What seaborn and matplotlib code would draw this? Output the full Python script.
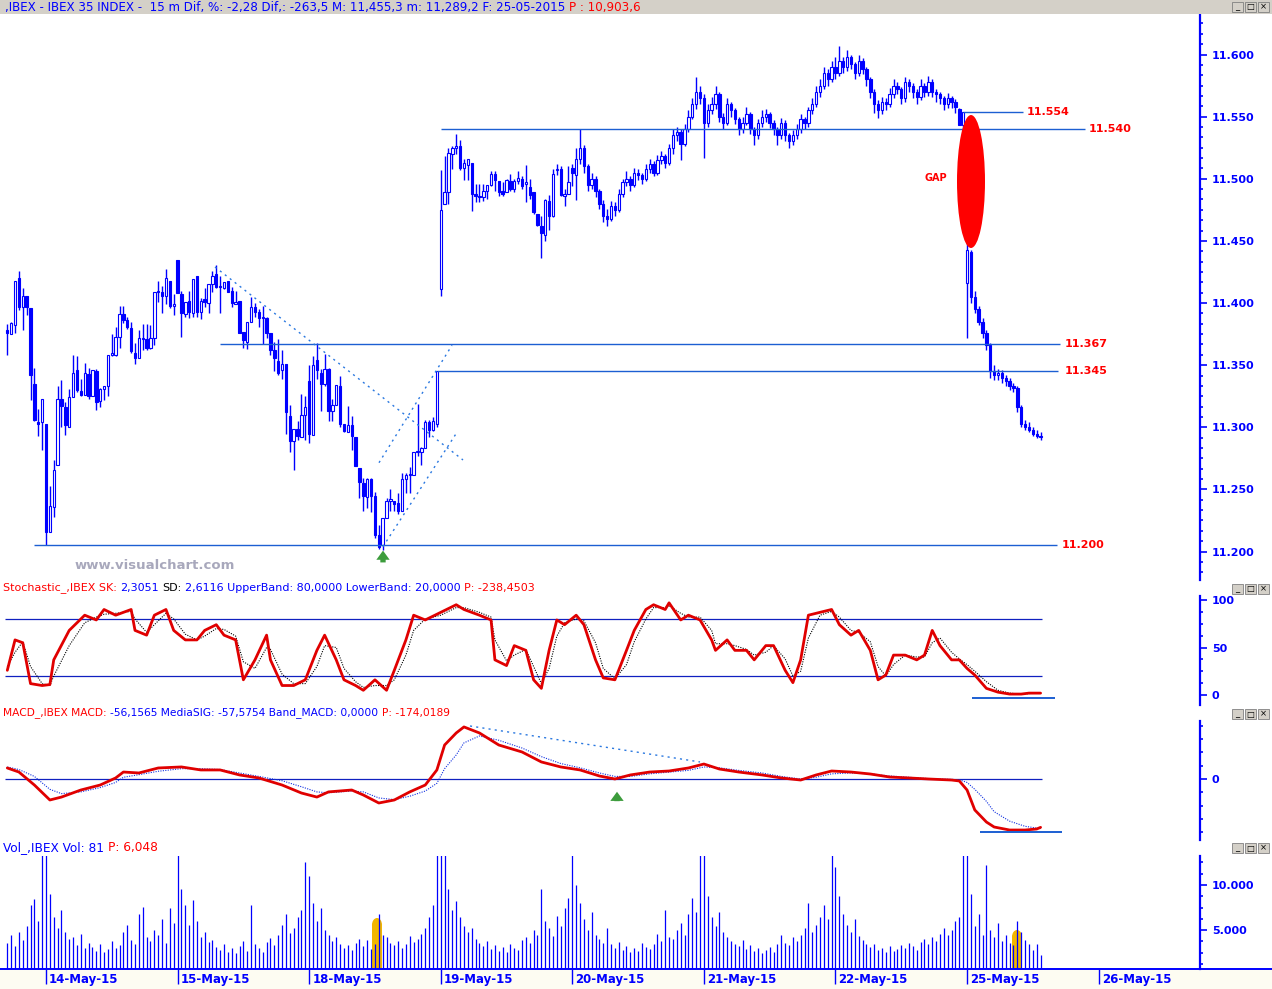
import numpy as np
import pandas as pd
import matplotlib
matplotlib.use("Agg")
import matplotlib.pyplot as plt
import matplotlib.transforms as mtransforms
from matplotlib.patches import Rectangle, Ellipse
from matplotlib.ticker import MultipleLocator
import seaborn as sns

# ---------------- data (15 min bars, IBEX 35, 13-May .. 25-May-2015) ----------------
opens = [
    11378, 11375, 11382, 11420, 11397, 11406, 11396, 11335, 11304, 11304,
    11303, 11216, 11236, 11270, 11323, 11316, 11300, 11324, 11346, 11329,
    11326, 11343, 11325, 11345, 11321, 11331, 11333, 11358, 11358, 11373,
    11391, 11386, 11380, 11360, 11356, 11371, 11371, 11364, 11372, 11409,
    11409, 11406, 11418, 11398, 11435, 11407, 11391, 11402, 11392, 11422,
    11393, 11403, 11400, 11415, 11423, 11413, 11412, 11418, 11410, 11399,
    11402, 11377, 11369, 11385, 11397, 11393, 11388, 11388, 11376, 11362,
    11353, 11346, 11351, 11309, 11289, 11299, 11292, 11310, 11337, 11294,
    11354, 11344, 11335, 11347, 11313, 11318, 11333, 11303, 11296, 11302,
    11292, 11267, 11255, 11244, 11258, 11245, 11213, 11205, 11227, 11241,
    11241, 11239, 11233, 11258, 11262, 11262, 11280, 11280, 11283, 11304,
    11298, 11303, 11411, 11480, 11489, 11520, 11525, 11526, 11509, 11511,
    11513, 11488, 11486, 11485, 11490, 11495, 11504, 11498, 11490, 11489,
    11498, 11492, 11498, 11500, 11496, 11493, 11489, 11472, 11462, 11455,
    11482, 11470, 11507, 11508, 11486, 11488, 11509, 11503,
    11516, 11525, 11510, 11495, 11500, 11490, 11480, 11470, 11468, 11478,
    11475, 11488, 11497, 11500, 11495, 11505, 11503, 11500, 11508, 11512,
    11505, 11515, 11518, 11513, 11525, 11535, 11538, 11528, 11540, 11550,
    11560, 11570, 11565, 11545, 11555, 11560, 11568, 11550, 11545, 11560,
    11555, 11548, 11540, 11545, 11552, 11540, 11535, 11545, 11550, 11552,
    11545, 11540, 11535, 11545, 11535, 11530, 11535, 11540, 11548, 11545,
    11555, 11560, 11570, 11575, 11585, 11580, 11590, 11585, 11595, 11590,
    11598, 11592, 11585, 11595, 11588, 11580, 11570, 11560, 11555, 11562,
    11560, 11568, 11575, 11572, 11565, 11578, 11575, 11570, 11566, 11575,
    11570, 11578, 11570, 11568, 11565, 11560, 11565, 11562, 11556, 11543,
    11416, 11441, 11405, 11395, 11385, 11376, 11366, 11345, 11342, 11344,
    11340, 11337, 11333, 11332, 11316, 11303, 11300, 11298, 11295, 11293,
]
highs = [
    11383, 11385, 11418, 11426, 11412, 11406, 11396, 11348, 11315, 11323,
    11303, 11253, 11274, 11333, 11338, 11320, 11331, 11358, 11357, 11339,
    11352, 11348, 11346, 11347, 11332, 11333, 11358, 11375, 11381, 11398,
    11398, 11389, 11385, 11368, 11378, 11383, 11383, 11382, 11409, 11418,
    11414, 11427, 11418, 11407, 11435, 11410, 11401, 11410, 11419, 11422,
    11404, 11412, 11415, 11426, 11431, 11422, 11417, 11418, 11413, 11410,
    11402, 11377, 11385, 11405, 11400, 11395, 11398, 11389, 11376, 11369,
    11371, 11362, 11351, 11318, 11299, 11305, 11327, 11325, 11350, 11357,
    11368, 11347, 11359, 11348, 11323, 11334, 11341, 11303, 11317, 11309,
    11292, 11267, 11259, 11259, 11259, 11248, 11221, 11227, 11243, 11250,
    11241, 11247, 11263, 11263, 11268, 11280, 11319, 11284, 11306, 11306,
    11308, 11345, 11507, 11518, 11525, 11526, 11536, 11531, 11516, 11516,
    11513, 11496, 11496, 11496, 11495, 11506, 11506, 11498, 11497, 11500,
    11504, 11500, 11506, 11502, 11511, 11500, 11489, 11472, 11470, 11484,
    11487, 11508, 11512, 11510, 11492, 11510, 11512, 11525,
    11540, 11527, 11512, 11505, 11502, 11492, 11483, 11476, 11482, 11481,
    11492, 11500, 11506, 11502, 11509, 11508, 11505, 11512, 11516, 11514,
    11519, 11522, 11520, 11528, 11540, 11542, 11540, 11544, 11555, 11565,
    11582, 11575, 11568, 11560, 11566, 11575, 11570, 11553, 11565, 11562,
    11557, 11550, 11550, 11558, 11554, 11542, 11548, 11555, 11556, 11554,
    11547, 11542, 11549, 11547, 11537, 11539, 11544, 11552, 11550, 11558,
    11565, 11575, 11580, 11590, 11588, 11595, 11598, 11607, 11598, 11604,
    11600, 11594, 11600, 11597, 11590, 11582, 11572, 11563, 11566, 11565,
    11573, 11580, 11578, 11574, 11582, 11580, 11577, 11572, 11580, 11577,
    11583, 11580, 11572, 11570, 11567, 11569, 11567, 11564, 11557, 11554,
    11452, 11443, 11410, 11398, 11388, 11378, 11368, 11350, 11347, 11346,
    11342, 11340, 11336, 11333, 11318, 11306, 11304, 11300, 11298, 11296,
]
lows = [
    11358, 11375, 11376, 11394, 11378, 11390, 11322, 11305, 11293, 11282,
    11205, 11216, 11228, 11270, 11300, 11294, 11300, 11324, 11328, 11325,
    11326, 11323, 11325, 11314, 11316, 11322, 11325, 11357, 11357, 11364,
    11384, 11379, 11360, 11351, 11356, 11362, 11362, 11363, 11366, 11401,
    11392, 11399, 11396, 11390, 11408, 11373, 11389, 11388, 11389, 11389,
    11387, 11397, 11392, 11409, 11412, 11392, 11411, 11409, 11397, 11399,
    11376, 11364, 11363, 11385, 11389, 11381, 11367, 11372, 11358, 11345,
    11342, 11339, 11295, 11280, 11266, 11290, 11292, 11290, 11287, 11294,
    11339, 11313, 11333, 11305, 11305, 11318, 11300, 11296, 11296, 11282,
    11269, 11243, 11233, 11235, 11232, 11211, 11202, 11201, 11227, 11233,
    11233, 11230, 11233, 11247, 11247, 11262, 11277, 11270, 11283, 11292,
    11297, 11300, 11406, 11480, 11480, 11508, 11520, 11507, 11499, 11499,
    11474, 11481, 11481, 11482, 11484, 11494, 11490, 11486, 11486, 11489,
    11490, 11489, 11496, 11492, 11481, 11484, 11472, 11462, 11436, 11450,
    11459, 11469, 11503, 11486, 11478, 11488, 11494, 11483,
    11512, 11505, 11490, 11492, 11485, 11476, 11465, 11462, 11466, 11470,
    11473, 11485, 11494, 11490, 11493, 11499, 11496, 11498, 11505, 11502,
    11503, 11512, 11509, 11511, 11520, 11530, 11515, 11526, 11538, 11548,
    11556, 11560, 11517, 11542, 11552, 11556, 11546, 11540, 11543, 11550,
    11544, 11535, 11537, 11543, 11536, 11527, 11532, 11542, 11546, 11541,
    11535, 11527, 11532, 11530, 11525, 11527, 11532, 11537, 11540, 11542,
    11552, 11558, 11566, 11572, 11575, 11578, 11580, 11583, 11585, 11587,
    11588, 11580, 11583, 11584, 11575, 11565, 11553, 11549, 11552, 11555,
    11558, 11565, 11568, 11560, 11562, 11570, 11565, 11560, 11563, 11566,
    11567, 11566, 11562, 11560, 11555, 11557, 11557, 11553, 11543, 11534,
    11372, 11400, 11392, 11382, 11372, 11362, 11340, 11338, 11338, 11336,
    11333, 11330, 11328, 11312, 11300, 11298, 11296, 11293, 11291, 11290,
]
closes = [
    11376, 11384, 11418, 11397, 11406, 11397, 11342, 11306, 11303, 11323,
    11216, 11237, 11266, 11323, 11317, 11302, 11324, 11344, 11330, 11326,
    11344, 11325, 11346, 11320, 11331, 11333, 11358, 11360, 11373, 11391,
    11386, 11381, 11361, 11356, 11372, 11372, 11364, 11372, 11409, 11410,
    11406, 11420, 11398, 11399, 11408, 11392, 11401, 11393, 11419, 11393,
    11402, 11401, 11415, 11422, 11413, 11413, 11417, 11409, 11400, 11401,
    11376, 11370, 11385, 11397, 11393, 11388, 11388, 11376, 11362, 11356,
    11344, 11351, 11312, 11289, 11299, 11293, 11310, 11316, 11295, 11350,
    11346, 11335, 11347, 11313, 11318, 11334, 11303, 11297, 11302, 11293,
    11269, 11256, 11245, 11258, 11245, 11213, 11204, 11227, 11241, 11242,
    11238, 11233, 11258, 11262, 11262, 11280, 11280, 11283, 11304, 11298,
    11305, 11345, 11475, 11489, 11521, 11525, 11526, 11509, 11513, 11516,
    11488, 11486, 11485, 11490, 11495, 11504, 11499, 11489, 11488, 11499,
    11492, 11498, 11501, 11494, 11497, 11487, 11473, 11463, 11456, 11483,
    11470, 11504, 11508, 11487, 11488, 11497, 11505, 11516,
    11525, 11510, 11495, 11500, 11490, 11480, 11470, 11468, 11478, 11475,
    11488, 11497, 11500, 11495, 11505, 11503, 11500, 11508, 11512, 11505,
    11515, 11518, 11513, 11525, 11535, 11538, 11528, 11540, 11550, 11560,
    11570, 11565, 11545, 11555, 11560, 11568, 11550, 11545, 11560, 11555,
    11548, 11540, 11545, 11552, 11540, 11535, 11545, 11550, 11552, 11545,
    11540, 11535, 11545, 11535, 11530, 11535, 11540, 11548, 11545, 11555,
    11560, 11570, 11575, 11585, 11580, 11590, 11585, 11595, 11590, 11598,
    11592, 11585, 11595, 11588, 11580, 11570, 11560, 11555, 11562, 11560,
    11568, 11575, 11572, 11565, 11578, 11575, 11570, 11566, 11575, 11570,
    11578, 11570, 11568, 11565, 11560, 11565, 11562, 11558, 11543, 11554,
    11443, 11405, 11395, 11385, 11376, 11366, 11345, 11342, 11344, 11340,
    11337, 11333, 11332, 11316, 11303, 11300, 11298, 11295, 11293, 11292,
]
volumes = [
    3600, 4500, 3200, 4800, 3900, 5500, 7800, 8400, 6000, 13500,
    13500, 9000, 6500, 5200, 7200, 4800, 4000, 4200, 3300, 4600, 3000, 3600, 3100, 2700, 3400, 2600, 2900,
    3800, 3000, 3300, 4800, 5600, 3900, 3500, 6800, 7600, 4200, 3800, 5000, 4400, 6200, 3600, 7400, 5800,
    13500, 9500, 7800, 5600, 8300, 6000, 4200, 4800, 3700, 3900, 3100, 2800, 3500, 2600, 3000, 2400, 3200,
    3800, 2700, 7800, 3400, 3000, 2600, 3700, 4100, 3300, 4400, 5600, 6800, 4700, 5200, 6400, 7200, 12500,
    11000, 8000, 6000, 7500, 5000, 4500, 3800, 4200, 3500, 3000, 3300, 2800, 3600, 4000, 3200, 3900, 2900,
    3500, 6800, 4500, 4200, 3600, 3300, 3800, 3000, 3400, 4300, 3700, 4000, 4600, 5200, 6400, 7800, 13500,
    13500, 13500, 9500, 7200, 8200, 6500, 5500, 4800, 5200, 4000, 3600, 3200, 3800, 2900, 3300, 2700, 3100,
    2600, 3500, 3000, 2800, 3900, 4200, 3600, 5000, 4400, 9500, 6000, 5200, 4300, 6600, 5400, 7500, 8600,
    13500, 10000, 8000, 6200, 5000, 7000, 4500, 4000, 3600, 5200, 3400, 3000, 3700, 2800, 3200, 2600, 3000,
    2700, 3600, 3100, 2900, 3500, 4600, 3800, 7200, 4200, 4000, 5000, 5800, 4500, 6800, 8500, 7000, 13500,
    13500, 8800, 6500, 5400, 7000, 4800, 4200, 3800, 3500, 3200, 3900, 2900, 3300, 2700, 3000, 2500, 2800,
    3100, 2600, 3400, 4400, 3600, 3300, 4200, 3800, 4500, 5200, 8000, 4800, 5600, 6400, 7800, 6200, 13500,
    12000, 8800, 6800, 5600, 4800, 6200, 4300, 3900, 3500, 3100, 3400, 2800, 3000, 2600, 3200, 2700, 2900,
    3300, 3000, 3600, 3200, 2800, 3700, 4000, 3500, 4200, 3800, 4600, 5200, 4400, 5000, 6000, 6500, 13500,
    13500, 9000, 5500, 6800, 4500, 12200, 5000, 4200, 5800, 3800, 4400, 3600, 3300, 6000, 4800, 3900, 3400,
    2800, 3500, 2200,
]

stoch_idx = [0, 2, 4, 6, 9, 11, 12, 16, 20, 23, 25, 28, 32, 33, 36, 38, 41, 43, 46, 49, 51, 54, 56, 59,
             61, 64, 67, 68, 71, 74, 77, 80, 82, 85, 87, 90, 92, 95, 98, 100, 103, 105, 108, 112, 116,
             118, 122, 125, 126, 129, 131, 134, 136, 138, 140, 142, 144, 147, 149, 152, 154, 157, 160,
             162, 165, 167, 170, 171, 174, 176, 179, 182, 183, 186, 188, 191, 193, 196, 198, 201, 203,
             205, 207, 210, 213, 215, 218, 220, 223, 225, 227, 229, 232, 235, 237, 239, 241, 244, 246,
             248, 250, 253, 256, 259, 262, 264, 267]
stoch_k = [26, 58, 55, 12, 10, 11, 37, 68, 84, 79, 90, 84, 90, 68, 63, 84, 90, 68, 58, 58, 68, 74, 63, 58,
           16, 37, 63, 37, 10, 10, 16, 47, 63, 37, 16, 10, 5, 16, 5, 26, 58, 84, 79, 87, 95,
           90, 84, 79, 37, 31, 52, 47, 16, 7, 47, 79, 74, 84, 74, 37, 18, 16, 47,
           68, 90, 95, 90, 97, 79, 84, 79, 58, 47, 58, 47, 47, 37, 52, 52, 26, 13,
           37, 84, 87, 90, 74, 63, 68, 47, 16, 21, 42, 42, 37, 42, 68, 52, 37, 37,
           28, 21, 7, 3, 1, 1, 2, 2]
stoch_d = [30, 45, 56, 30, 12, 10, 20, 52, 76, 82, 85, 86, 88, 80, 66, 74, 86, 80, 64, 58, 62, 70, 69, 62,
           35, 28, 50, 48, 22, 12, 12, 30, 52, 50, 28, 14, 8, 10, 10, 16, 42, 68, 80, 84, 92,
           92, 87, 82, 58, 36, 42, 48, 30, 12, 28, 62, 76, 80, 78, 55, 28, 17, 32,
           56, 80, 92, 92, 94, 86, 82, 82, 68, 54, 54, 52, 48, 42, 45, 52, 38, 20,
           25, 60, 84, 88, 82, 68, 66, 56, 30, 20, 32, 42, 40, 40, 55, 60, 45, 38,
           32, 25, 14, 5, 2, 1, 1.5, 2]

macd_idx = [0, 3, 7, 11, 14, 19, 24, 28, 30, 34, 39, 45, 50, 55, 60, 65, 71, 76, 80, 83, 89, 92, 96,
            100, 104, 108, 111, 113, 116, 118, 122, 127, 133, 138, 143, 148, 153, 157, 161, 166, 171,
            176, 180, 184, 189, 195, 200, 205, 209, 213, 218, 223, 228, 233, 238, 244, 246, 248, 250,
            253, 255, 259, 263, 266, 267]
macd_line = [12.8, 8.1, -7, -24.4, -21, -12.8, -7, 1.2, 8.1, 7, 12.8, 14, 10.5, 10.5, 4.7, 1.2, -7,
             -16.3, -21, -15, -12.8, -18.6, -27.9, -24.4, -15, -7, 10.5, 39.5, 53.5, 60.5, 53.5, 39.5,
             31.4, 19.8, 14, 10.5, 3.5, 0, 4.7, 8.1, 9.3, 12.8, 17.4, 11.6, 8.1, 4.7, 1.2, -1.2, 4.7,
             9.3, 8.1, 5.8, 2.3, 1.2, 0, -1.2, -2.3, -12.8, -36, -50, -55.8, -59.3, -59.3, -58.1, -56.2]
macd_signal = [14, 11, 3, -12, -17, -15, -10, -4, 2, 5, 9, 12, 12, 11, 7, 3, -2, -9, -15, -16, -14,
               -15, -22, -24, -20, -14, -5, 12, 28, 42, 50, 45, 36, 26, 18, 13, 7, 3, 3, 6, 8, 10, 14,
               13, 10, 7, 3, 0, 2, 6, 7, 6, 3.5, 2, 0.5, -0.5, -1, -4, -12, -26, -38, -49, -55, -57,
               -57.6]

day_idx = [10, 44, 78, 112, 146, 180, 214, 248, 282]
day_labels = ['14-May-15', '15-May-15', '18-May-15', '19-May-15', '20-May-15',
              '21-May-15', '22-May-15', '25-May-15', '26-May-15']

level_values = [11540, 11554, 11367, 11345, 11205]
level_labels = ['11.540', '11.554', '11.367', '11.345', '11.200']

# ---------------- layout ----------------
sns.set_theme(style="white")
plt.rcParams['font.family'] = ['DejaVu Sans']

W, H = 1272, 989
BLUE = '#0000ff'
LINE = '#1c5fd2'
RED = '#ff0000'
GRAY = '#d4d0c8'
ORANGE = '#f2b600'

fig = plt.figure(figsize=(W / 100, H / 100), dpi=100)
fig.patch.set_facecolor('white')
renderer = fig.canvas.get_renderer()

X0 = 7.3          # pixel of first bar
DX = 3.87         # pixels per bar


def box(x0, y0, x1, y1):
    return [x0 / W, 1 - y1 / H, (x1 - x0) / W, (y1 - y0) / H]


ax_p = fig.add_axes(box(0, 15, 1200, 580))
ax_s = fig.add_axes(box(0, 596, 1200, 705))
ax_m = fig.add_axes(box(0, 721, 1200, 840))
ax_v = fig.add_axes(box(0, 856, 1200, 969))


def style_panel(ax, ylim):
    ax.set_xlim(-X0 / DX, (1200 - X0) / DX)
    ax.set_ylim(*ylim)
    ax.set_facecolor('white')
    for s in ['top', 'left', 'bottom']:
        ax.spines[s].set_visible(False)
    ax.spines['right'].set_color(BLUE)
    ax.spines['right'].set_linewidth(1.6)
    ax.yaxis.tick_right()
    ax.tick_params(axis='y', which='major', direction='out', length=5, width=1.2,
                   color=BLUE, labelcolor=BLUE, labelsize=8, pad=3.5)
    ax.tick_params(axis='y', which='minor', direction='out', length=2.5, width=1.2, color=BLUE)
    ax.set_xticks([])
    ax.grid(False)


# ---- price panel ----
style_panel(ax_p, (11177.1, 11631.8))
ticks = list(range(11200, 11601, 50))
ax_p.set_yticks(ticks, ['{:,}'.format(t).replace(',', '.') for t in ticks], fontweight='bold')
ax_p.yaxis.set_minor_locator(MultipleLocator(50 / 6))

df = pd.DataFrame({'o': opens, 'h': highs, 'l': lows, 'c': closes})
df['i'] = np.arange(len(df))
up = df['c'] >= df['o']
body_lo = np.minimum(df['o'], df['c'])
body_h = np.maximum((df['c'] - df['o']).abs(), 0.8)
ax_p.vlines(df['i'], df['l'], df['h'], color=BLUE, lw=1.0, zorder=2)
ax_p.bar(df['i'][up], body_h[up], bottom=body_lo[up], width=0.62,
         facecolor='white', edgecolor=BLUE, lw=0.8, zorder=3)
ax_p.bar(df['i'][~up], body_h[~up], bottom=body_lo[~up], width=0.62,
         facecolor=BLUE, edgecolor=BLUE, lw=0.8, zorder=3)

# support / resistance levels (pixel spans of the drawn lines)
level_spans = [(441, 1085, 1089), (963, 1023, 1027), (220, 1060, 1065), (437, 1058, 1065), (34, 1057, 1062)]
for val, lab, (a, b, t) in zip(level_values, level_labels, level_spans):
    ax_p.hlines(val, (a - X0) / DX, (b - X0) / DX, color=LINE, lw=1.0, zorder=4)
    ax_p.text((t - X0) / DX, val, lab, color=RED, fontsize=8, fontweight='bold',
              ha='left', va='center', zorder=5)

dots = dict(color='#2a78e0', lw=1.0, ls=(0, (1.5, 3)), zorder=4)
ax_p.plot([(215 - X0) / DX, (463 - X0) / DX], [11429, 11273.7], **dots)
ax_p.plot([(379 - X0) / DX, (452 - X0) / DX], [11271.5, 11366], **dots)
ax_p.plot([(383 - X0) / DX, (457 - X0) / DX], [11204, 11296], **dots)

ax_p.add_patch(Ellipse(((971 - X0) / DX, 11497.8), width=28 / DX, height=107,
                       facecolor=RED, edgecolor='none', zorder=6))
ax_p.text((936 - X0) / DX, 11501, 'GAP', color=RED, fontsize=7, fontweight='bold',
          ha='center', va='center', zorder=6)
ax_p.text((75 - X0) / DX, 11189, 'www.visualchart.com', color='#a8a8bc', fontsize=9.5,
          fontweight='bold', ha='left', va='center')
arrow = dict(arrowstyle='simple,head_length=0.55,head_width=0.8,tail_width=0.32',
             color='#3c9c3c', lw=0)
ax_p.annotate('', xy=((383 - X0) / DX, 11203), xytext=((383 - X0) / DX, 11189),
              arrowprops=arrow, zorder=6)

# ---- stochastic ----
style_panel(ax_s, (-10.5, 104.2))
ax_s.set_yticks([0, 50, 100], ['0', '50', '100'], fontweight='bold')
ax_s.yaxis.set_minor_locator(MultipleLocator(12.5))
ax_s.hlines([80, 20], -0.6, 267.4, color='#1020c0', lw=0.9)
sns.lineplot(x=stoch_idx, y=stoch_d, ax=ax_s, color='black', lw=0.8,
             linestyle=(0, (1, 1.2)), estimator=None, sort=False)
sns.lineplot(x=stoch_idx, y=stoch_k, ax=ax_s, color='#e00000', lw=2.0,
             estimator=None, sort=False)
ax_s.hlines(-3.2, (972 - X0) / DX, (1055 - X0) / DX, color=LINE, lw=1.4)

# ---- MACD ----
style_panel(ax_m, (-70.9, 67.4))
ax_m.set_yticks([0], ['0'], fontweight='bold')
ax_m.yaxis.set_minor_locator(MultipleLocator(15.5))
ax_m.hlines(0, -0.6, 267.4, color='#1020c0', lw=0.9)
sns.lineplot(x=macd_idx, y=macd_signal, ax=ax_m, color='#1030e0', lw=0.8,
             linestyle=(0, (1, 1.2)), estimator=None, sort=False)
sns.lineplot(x=macd_idx, y=macd_line, ax=ax_m, color='#e00000', lw=2.0,
             estimator=None, sort=False)
ax_m.plot([(470 - X0) / DX, (700 - X0) / DX], [61.6, 19.8], **dots)
ax_m.hlines(-61.6, (980 - X0) / DX, (1062 - X0) / DX, color=LINE, lw=1.4)
ax_m.annotate('', xy=((617 - X0) / DX, -11.6), xytext=((617 - X0) / DX, -29),
              arrowprops=arrow, zorder=6)

# ---- volume ----
style_panel(ax_v, (667, 13222))
ax_v.set_yticks([5000, 10000], ['5.000', '10.000'], fontweight='bold')
ax_v.yaxis.set_minor_locator(MultipleLocator(1250))
# highlight capsules (rounded top, straight sides)
cap = 7 * 111.1   # half height of the rounded cap, ~7 px
for xc, top in [(377, 6333), (1017, 5000)]:
    xi = (xc - X0) / DX
    ax_v.add_patch(Rectangle((xi - 1.3, 0), 2.6, top - cap, facecolor=ORANGE,
                             edgecolor='none', zorder=1))
    ax_v.add_patch(Ellipse((xi, top - cap), width=2.6, height=2 * cap,
                           facecolor=ORANGE, edgecolor='none', zorder=1))
ax_v.vlines(np.arange(len(volumes)), 0, volumes, color=BLUE, lw=0.9, zorder=2)
ax_v.spines['bottom'].set_visible(True)
ax_v.spines['bottom'].set_color(BLUE)
ax_v.spines['bottom'].set_linewidth(1.4)
ax_v.set_xticks(day_idx)
ax_v.set_xticklabels([])
ax_v.tick_params(axis='x', which='major', direction='out', length=11, width=1.0,
                 color=BLUE, bottom=True)
trans = mtransforms.blended_transform_factory(ax_v.transData, ax_v.transAxes)
for d, lab in zip(day_idx, day_labels):
    ax_v.text(d + 0.8, -0.09, lab, transform=trans, color=BLUE, fontsize=8.5,
              fontweight='bold', ha='left', va='center', clip_on=False)

# ---------------- frame decorations ----------------
fig.patches.append(Rectangle((0, 0), 1, 1 - 969 / H, transform=fig.transFigure,
                             facecolor='#fdfcf2', edgecolor='none', zorder=-1))
fig.patches.append(Rectangle((0, 1 - 14 / H), 1, 14 / H, transform=fig.transFigure,
                             facecolor=GRAY, edgecolor='none', zorder=0))
fig.lines.append(plt.Line2D([1200 / W, 1], [1 - 969 / H] * 2, transform=fig.transFigure,
                            color=BLUE, lw=1.4))


def measure(s, size):
    t1 = fig.text(0, 0, '|' + s + '|', fontsize=size)
    t2 = fig.text(0, 0, '||', fontsize=size)
    w = t1.get_window_extent(renderer).width - t2.get_window_extent(renderer).width
    t1.remove()
    t2.remove()
    return w


def header(x0, x1, y, parts):
    full = ''.join(s for s, c in parts)
    size = 10 * (x1 - x0) / measure(full, 10)
    prefix = ''
    for s, c in parts:
        lead = len(s) - len(s.lstrip())
        xpos = x0 + measure(prefix + s[:lead], size)
        fig.text(xpos / W, 1 - y / H, s.strip(), color=c, fontsize=size,
                 ha='left', va='center')
        prefix += s


header(5, 640, 7, [(',IBEX - IBEX 35 INDEX -  15 m Dif, %: -2,28 Dif,: -263,5 M: 11,455,3 '
                     'm: 11,289,2 F: 25-05-2015', BLUE), (' P : 10,903,6', RED)])
header(3, 533, 588, [('Stochastic_,IBEX SK:', RED), (' 2,3051', BLUE), (' SD:', 'black'),
                     (' 2,6116 UpperBand: 80,0000 LowerBand: 20,0000', BLUE),
                     (' P: -238,4503', RED)])
header(3, 450, 713, [('MACD_,IBEX MACD:', RED), (' -56,1565 MediaSIG: -57,5754 Band_MACD: 0,0000', BLUE),
                     (' P: -174,0189', RED)])
header(3, 157, 848, [('Vol_,IBEX Vol: 81', BLUE), (' P: 6,048', RED)])

# window buttons
for yb in [2, 584, 709, 843]:
    for k, sym in enumerate(['_', '\u25a1', '\u00d7']):
        xb = 1232 + 13 * k
        fig.patches.append(Rectangle((xb / W, 1 - (yb + 10) / H), 11 / W, 10 / H,
                                     transform=fig.transFigure, facecolor=GRAY,
                                     edgecolor='#808080', lw=0.6, zorder=3))
        fig.text((xb + 5.5) / W, 1 - (yb + 5) / H, sym, fontsize=6, color='black',
                 ha='center', va='center', zorder=4)

fig.savefig('out.png', dpi=100, facecolor=fig.get_facecolor())
